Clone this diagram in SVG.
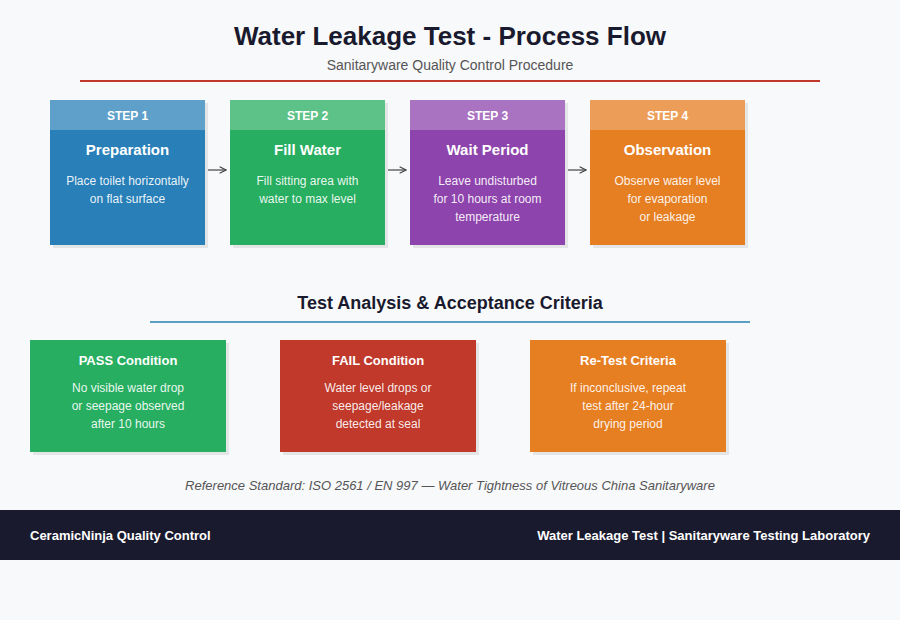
<svg xmlns="http://www.w3.org/2000/svg" width="900" height="620" viewBox="0 0 900 620">
<defs>
<style>
text{font-family:"Liberation Sans",Arial,sans-serif;}
.title{font-size:26px;font-weight:bold;fill:#1a1a2e;text-anchor:middle;}
.sub{font-size:14px;fill:#555;text-anchor:middle;}
.sect{font-size:18px;font-weight:bold;fill:#1a1a2e;text-anchor:middle;}
.shadow{fill:#000;opacity:0.08;}
.hdrband{fill:#fff;opacity:0.25;}
.step{font-size:12px;font-weight:bold;fill:#fff;text-anchor:middle;}
.ntitle{font-size:15px;font-weight:bold;fill:#fff;text-anchor:middle;}
.ctitle{font-size:13px;font-weight:bold;fill:#fff;text-anchor:middle;}
.desc{font-size:12px;fill:#fff;fill-opacity:0.92;text-anchor:middle;}
.ref{font-size:13px;font-style:italic;fill:#555;text-anchor:middle;}
.foot{font-size:13px;font-weight:bold;fill:#fff;}
.conn{stroke:#444;stroke-width:1.2;fill:none;marker-end:url(#arr);}
</style>
<marker id="arr" viewBox="0 0 10 10" refX="9" refY="5" markerWidth="8" markerHeight="8" markerUnits="userSpaceOnUse" orient="auto">
<path d="M1,1 L9,5 L1,9" fill="none" stroke="#444" stroke-width="1.4"/>
</marker>
</defs>
<rect width="900" height="620" fill="#f8f9fb"/>
<text class="title" x="450" y="45">Water Leakage Test - Process Flow</text>
<text class="sub" x="450" y="70">Sanitaryware Quality Control Procedure</text>
<line x1="80" y1="81" x2="820" y2="81" stroke="#c0392b" stroke-width="2"/>

<g id="step1">
<rect class="shadow" x="53" y="103" width="155" height="145"/>
<rect x="50" y="100" width="155" height="145" fill="#2980b9"/>
<rect class="hdrband" x="50" y="100" width="155" height="30"/>
<text class="step" x="127.5" y="120">STEP 1</text>
<text class="ntitle" x="127.5" y="155">Preparation</text>
<text class="desc" x="127.5" y="185">Place toilet horizontally</text>
<text class="desc" x="127.5" y="203">on flat surface</text>
</g>
<g id="step2">
<rect class="shadow" x="233" y="103" width="155" height="145"/>
<rect x="230" y="100" width="155" height="145" fill="#27ae60"/>
<rect class="hdrband" x="230" y="100" width="155" height="30"/>
<text class="step" x="307.5" y="120">STEP 2</text>
<text class="ntitle" x="307.5" y="155">Fill Water</text>
<text class="desc" x="307.5" y="185">Fill sitting area with</text>
<text class="desc" x="307.5" y="203">water to max level</text>
</g>
<g id="step3">
<rect class="shadow" x="413" y="103" width="155" height="145"/>
<rect x="410" y="100" width="155" height="145" fill="#8e44ad"/>
<rect class="hdrband" x="410" y="100" width="155" height="30"/>
<text class="step" x="487.5" y="120">STEP 3</text>
<text class="ntitle" x="487.5" y="155">Wait Period</text>
<text class="desc" x="487.5" y="185">Leave undisturbed</text>
<text class="desc" x="487.5" y="203">for 10 hours at room</text>
<text class="desc" x="487.5" y="221">temperature</text>
</g>
<g id="step4">
<rect class="shadow" x="593" y="103" width="155" height="145"/>
<rect x="590" y="100" width="155" height="145" fill="#e67e22"/>
<rect class="hdrband" x="590" y="100" width="155" height="30"/>
<text class="step" x="667.5" y="120">STEP 4</text>
<text class="ntitle" x="667.5" y="155">Observation</text>
<text class="desc" x="667.5" y="185">Observe water level</text>
<text class="desc" x="667.5" y="203">for evaporation</text>
<text class="desc" x="667.5" y="221">or leakage</text>
</g>

<g id="connectors">
<line class="conn" x1="208" y1="170" x2="226" y2="170"/>
<line class="conn" x1="388" y1="170" x2="406" y2="170"/>
<line class="conn" x1="568" y1="170" x2="586" y2="170"/>
</g>

<text class="sect" x="450" y="309">Test Analysis &amp; Acceptance Criteria</text>
<line x1="150" y1="322" x2="750" y2="322" stroke="#5b9fc4" stroke-width="2"/>

<g id="pass">
<rect class="shadow" x="33" y="343" width="196" height="112"/>
<rect x="30" y="340" width="196" height="112" fill="#27ae60"/>
<text class="ctitle" x="128" y="365">PASS Condition</text>
<text class="desc" x="128" y="392">No visible water drop</text>
<text class="desc" x="128" y="410">or seepage observed</text>
<text class="desc" x="128" y="428">after 10 hours</text>
</g>
<g id="fail">
<rect class="shadow" x="283" y="343" width="196" height="112"/>
<rect x="280" y="340" width="196" height="112" fill="#c0392b"/>
<text class="ctitle" x="378" y="365">FAIL Condition</text>
<text class="desc" x="378" y="392">Water level drops or</text>
<text class="desc" x="378" y="410">seepage/leakage</text>
<text class="desc" x="378" y="428">detected at seal</text>
</g>
<g id="retest">
<rect class="shadow" x="533" y="343" width="196" height="112"/>
<rect x="530" y="340" width="196" height="112" fill="#e67e22"/>
<text class="ctitle" x="628" y="365">Re-Test Criteria</text>
<text class="desc" x="628" y="392">If inconclusive, repeat</text>
<text class="desc" x="628" y="410">test after 24-hour</text>
<text class="desc" x="628" y="428">drying period</text>
</g>

<text class="ref" x="450" y="490">Reference Standard: ISO 2561 / EN 997 — Water Tightness of Vitreous China Sanitaryware</text>

<rect x="0" y="510" width="900" height="50" fill="#1a1a2e"/>
<text class="foot" x="30" y="540">CeramicNinja Quality Control</text>
<text class="foot" x="870" y="540" text-anchor="end">Water Leakage Test | Sanitaryware Testing Laboratory</text>
</svg>
